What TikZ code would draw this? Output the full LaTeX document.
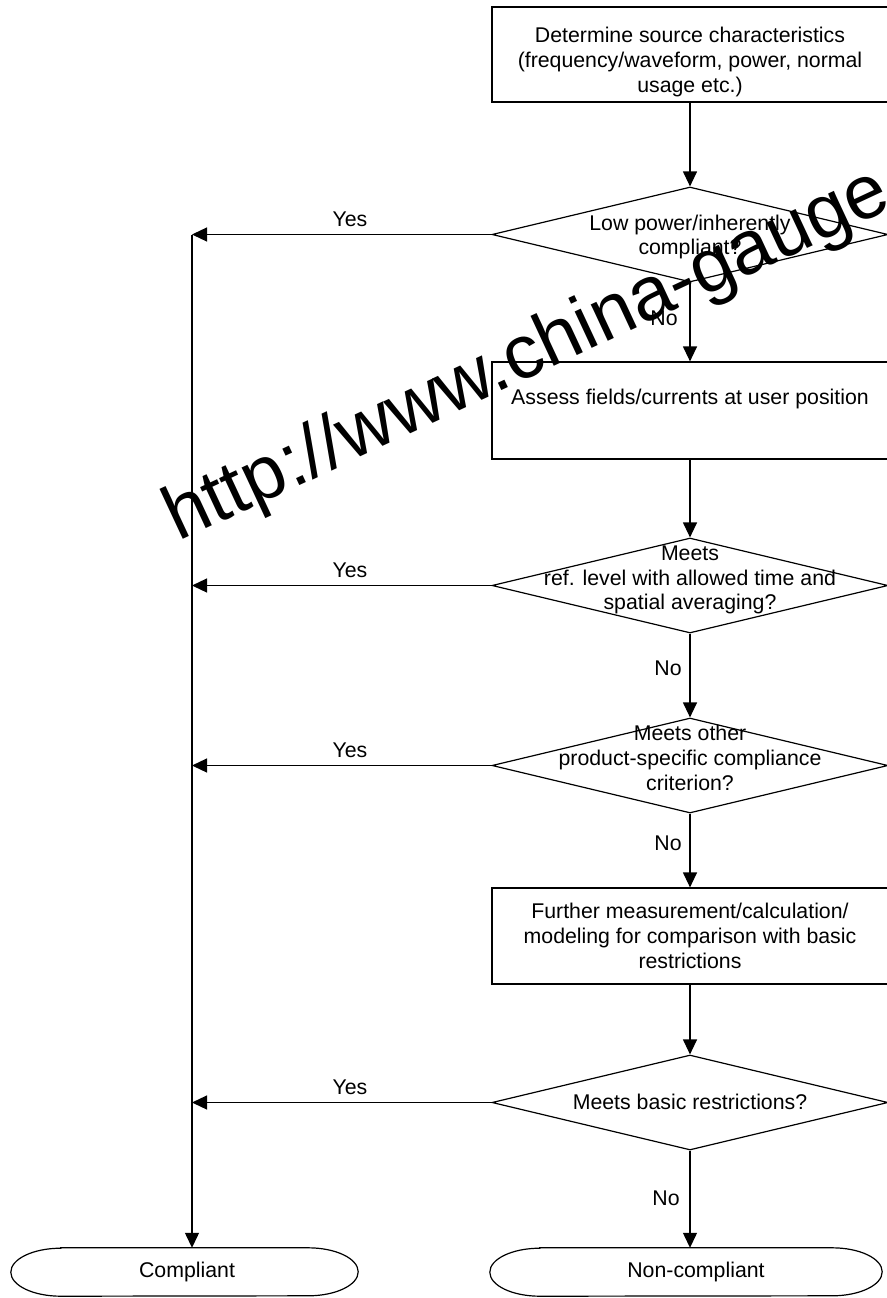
\documentclass[tikz,border=0pt]{standalone}
\usepackage{fontspec}
\setmainfont{Liberation Sans}
\usetikzlibrary{arrows.meta,shapes.geometric}
\tikzset{
  px/.style={x=1pt,y=-1pt},
  ln/.style={line width=1.2pt,draw=black},
  arr/.style={ln,-{Triangle[length=15pt,width=14pt]}},
  box/.style={ln,rectangle,inner sep=0pt,align=center},
  dia/.style={ln,diamond,inner sep=0pt},
  txt/.style={align=center,inner sep=0pt,font=\fontsize{21.3}{24.8}\selectfont},
  lab/.style={inner sep=0pt,font=\fontsize{21.3}{24.8}\selectfont},
  term/.style={rectangle,inner sep=0pt,draw=none},
}
\begin{document}
\begin{tikzpicture}[px]
\useasboundingbox (0,0) rectangle (886,1298);
% boxes
\node[box,minimum width=396pt,minimum height=95pt] (b1) at (690,54.5) {};
\node[txt] (b1t) at (690,62) {Determine source characteristics\\(frequency/waveform, power, normal\\usage etc.)};
\node[dia,minimum width=396pt,minimum height=95pt] (d1) at (690,234.5) {};
\node[txt] (d1t) at (690,237) {Low power/inherently\\compliant?};
\node[box,minimum width=396pt,minimum height=97pt] (b2) at (690,410.5) {};
\node[txt] (b2t) at (690,399) {Assess fields/currents at user position};
\node[dia,minimum width=396pt,minimum height=95pt] (d2) at (690,585.5) {};
\node[txt] (d2t) at (690,580) {Meets\\ref. level with allowed time and\\spatial averaging?};
\node[dia,minimum width=396pt,minimum height=95pt] (d3) at (690,765.5) {};
\node[txt] (d3t) at (690,758) {Meets other\\product-specific compliance\\criterion?};
\node[box,minimum width=396pt,minimum height=96pt] (b4) at (690,936) {};
\node[txt] (b4t) at (690,936) {Further measurement/calculation/\\modeling for comparison with basic\\restrictions};
\node[dia,minimum width=396pt,minimum height=95pt] (d4) at (690,1102.5) {};
\node[txt] (d4t) at (690,1102) {Meets basic restrictions?};
% terminals
\node[term,minimum width=347pt,minimum height=48pt] (t1) at (184.5,1272) {};
\node[term,minimum width=392pt,minimum height=48pt] (t2) at (686,1272) {};
\foreach \t in {t1,t2}{
  \draw[ln] ([xshift=50pt]\t.north west) -- ([xshift=-50pt]\t.north east)
    arc[start angle=90,end angle=-90,x radius=50pt,y radius=24pt]
    -- ([xshift=50pt]\t.south west)
    arc[start angle=270,end angle=90,x radius=50pt,y radius=24pt] -- cycle;
}
\node[lab] (t1t) at (187,1272) {Compliant};
\node[lab] (t2t) at (696,1272) {Non-compliant};
% yes targets
\coordinate (c1) at (192,234.5);
\coordinate (c2) at (192,585.5);
\coordinate (c3) at (192,765.5);
\coordinate (c4) at (192,1102.5);
% vertical flow
\draw[arr] (b1.south) -- (d1.north);
\draw[arr] (d1.south) -- (b2.north);
\draw[arr] (b2.south) -- (d2.north);
\draw[arr] (d2.south) -- (d3.north);
\draw[arr] (d3.south) -- (b4.north);
\draw[arr] (b4.south) -- (d4.north);
\draw[arr] (d4.south) -- (d4.south |- t2.north);
% yes branches
\foreach \i in {1,2,3,4}{
  \draw[arr] (d\i.west) -- (c\i);
}
\draw[arr] (c1) -- (c1 |- t1.north);
% labels
\node[lab] (y1) at (350,219) {Yes};
\node[lab] (y2) at (350,570) {Yes};
\node[lab] (y3) at (350,750) {Yes};
\node[lab] (y4) at (350,1087) {Yes};
\node[lab] (n1) at (664,318) {No};
\node[lab] (n2) at (668,668) {No};
\node[lab] (n3) at (668,843) {No};
\node[lab] (n4) at (666,1198) {No};
% watermark
\node[anchor=base west,inner sep=0pt,rotate=25,font=\fontsize{76}{76}\selectfont] (wm) at (178,542) {http://www.china-gauge};
\end{tikzpicture}
\end{document}
